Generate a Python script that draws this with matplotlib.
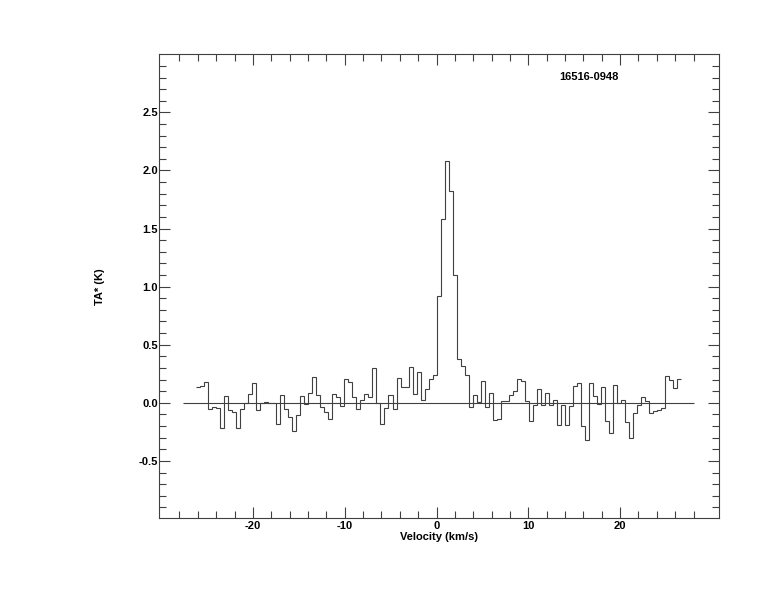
import matplotlib
matplotlib.use("Agg")
import matplotlib.pyplot as plt
import numpy as np

# spectrum of 16516-0948, antenna temperature per channel (K)
ta = [0.135, 0.144, 0.178, -0.055, -0.032, -0.046, -0.218, 0.055, -0.063, -0.078,
      -0.218, -0.052, 0.000, 0.078, 0.170, -0.063, 0.000, 0.005, -0.005, 0.000,
      -0.184, 0.069, -0.052, -0.124, -0.241, -0.106, 0.057, -0.006, 0.086, 0.221,
      0.066, -0.037, -0.083, -0.141, 0.075, 0.052, -0.029, 0.204, 0.178, 0.046,
      -0.055, 0.023, 0.075, 0.052, 0.299, 0.000, -0.184, -0.046, 0.066, -0.055,
      0.213, 0.132, 0.138, 0.307, 0.078, 0.264, 0.023, 0.118, 0.204, 0.241,
      0.922, 1.583, 2.083, 1.825, 1.103, 0.376, 0.319, 0.241, -0.037, 0.066,
      0.006, 0.187, -0.037, 0.086, -0.147, -0.141, 0.014, 0.014, 0.066, 0.103,
      0.204, 0.187, 0.014, -0.158, -0.017, 0.118, -0.020, 0.086, -0.017, 0.023,
      -0.190, -0.017, -0.190, -0.029, 0.147, 0.172, -0.198, -0.319, 0.167, 0.060,
      -0.009, 0.135, -0.155, -0.261, 0.152, 0.000, 0.023, -0.164, -0.305, -0.086,
      -0.020, 0.049, 0.014, -0.086, -0.069, -0.060, -0.046, 0.233, 0.195, 0.126,
      0.204]

# velocity grid (km/s)
dv = 0.436
v_start = -60 * dv
vel_edges = v_start + dv * np.arange(len(ta) + 1)

x_major = [-20, -10, 0, 10, 20]
x_minor = list(range(-28, 30, 2))
y_major = [-0.5, 0.0, 0.5, 1.0, 1.5, 2.0, 2.5]
y_minor = [round(-0.9 + 0.1 * i, 1) for i in range(39)]

plt.rcParams['font.family'] = ['Liberation Sans', 'DejaVu Sans']
plt.rcParams['font.weight'] = 'bold'
plt.rcParams['axes.unicode_minus'] = False

fig = plt.figure(figsize=(7.74, 6.12), dpi=100)
ax = fig.add_axes([0.2058, 0.1531, 0.7235, 0.7582])

col = '#404040'
ax.stairs(ta, vel_edges, baseline=None, color=col, lw=0.8)
ax.hlines(0, -27.6, 28.1, color=col, lw=0.8)

ax.set_xlim(-30.2, 30.8)
ax.set_ylim(-0.994, 3.0)
ax.set_xticks(x_major)
ax.set_xticks(x_minor, minor=True)
ax.set_yticks(y_major)
ax.set_yticks(y_minor, minor=True)
ax.set_yticklabels(['%.1f' % y for y in y_major])

ax.tick_params(which='both', direction='in', top=True, right=True, color=col,
               width=0.8, labelsize=8)
ax.tick_params(which='major', length=7.7)
ax.tick_params(which='minor', length=5.3)
ax.tick_params(axis='y', pad=1)
ax.tick_params(axis='x', pad=2)
for s in ax.spines.values():
    s.set_color(col)
    s.set_linewidth(0.8)

ax.set_xlabel('Velocity (km/s)', fontsize=8, fontweight='bold', labelpad=1)
ax.set_ylabel('TA* (K)', fontsize=8, fontweight='bold', labelpad=24)
ax.text(0.768, 0.95, '16516-0948', transform=ax.transAxes, ha='center',
        va='center', fontsize=8, fontweight='bold')

fig.savefig('out.png', dpi=100)
